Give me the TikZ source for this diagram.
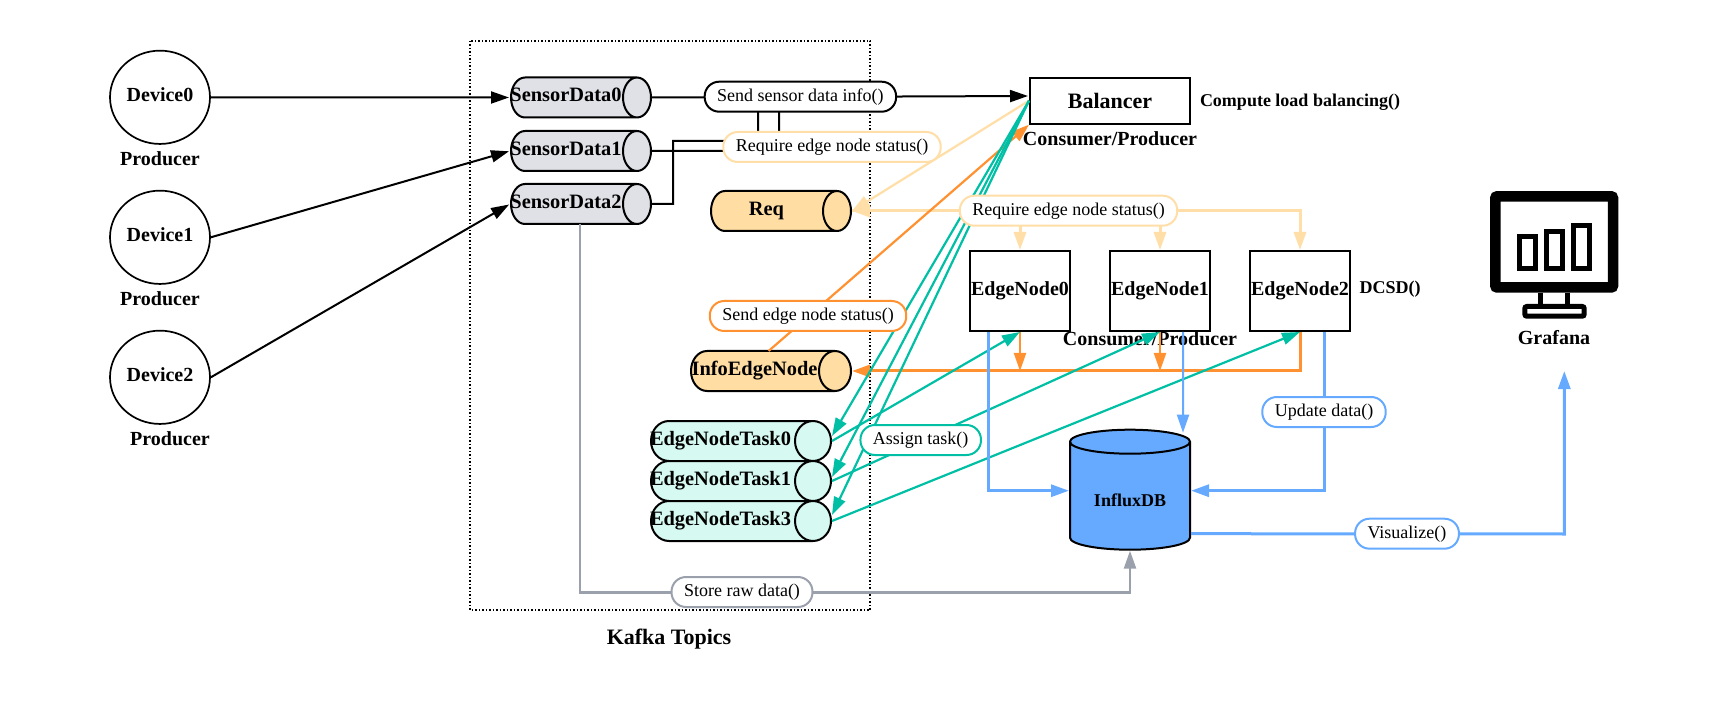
\documentclass[tikz,border=0pt]{standalone}
\usepackage{fontspec}
\setmainfont{Liberation Serif}
\usetikzlibrary{shapes.geometric,arrows.meta}
\definecolor{sensorgrey}{HTML}{DFE1E6}
\definecolor{linegrey}{HTML}{9AA0AC}
\definecolor{pale}{HTML}{FFDEA7}
\definecolor{paleorange}{HTML}{FFDDA3}
\definecolor{deeporange}{HTML}{FF9130}
\definecolor{teal}{HTML}{00BFA5}
\definecolor{mint}{HTML}{D6F9F2}
\definecolor{skyblue}{HTML}{66AAFF}
\tikzset{blacktip/.style={-{Triangle[length=18pt,width=12pt]},shorten >=1pt}}
\tikzset{colortip/.style={-{Triangle[length=18pt,width=12pt]}}}
\tikzset{device/.style={
    draw=black,
    ellipse,
    line width=1.7pt,
    inner sep=0pt,
    text depth=6pt,
    minimum width=100pt,
    minimum height=93.3pt,
    font=\fontsize{20}{24}\selectfont\bfseries}}
\tikzset{topic/.style={
    draw=black,
    cylinder,
    anchor=west,
    line width=2pt,
    inner sep=0pt,
    text height=40pt,
    text depth=0pt,
    minimum width=40pt,
    shape aspect=0.7}}
\tikzset{topiclabel/.style={
    inner sep=0pt,
    text height=14pt,
    text depth=5pt,
    font=\fontsize{20.4}{24}\selectfont\bfseries}}
\tikzset{boxnode/.style={
    draw=black,
    rectangle,
    line width=2pt,
    inner sep=0pt,
    font=\fontsize{20}{24}\selectfont\bfseries}}
\tikzset{note/.style={
    inner sep=0pt,
    font=\fontsize{18}{22}\selectfont\bfseries}}
\tikzset{bignote/.style={
    inner sep=0pt,
    font=\fontsize{20}{24}\selectfont\bfseries}}
\tikzset{pill/.style={
    fill=white,
    rectangle,
    rounded corners=14.5pt,
    line width=2pt,
    inner xsep=12.5pt,
    inner ysep=0pt,
    minimum height=30pt,
    font=\fontsize{18}{22}\selectfont}}
\tikzset{dataedge/.style={
    draw=black,
    line width=2pt}}
\tikzset{paleedge/.style={
    draw=pale,
    line width=3pt}}
\tikzset{orangeedge/.style={
    draw=deeporange,
    line width=2.2pt}}
\tikzset{tealedge/.style={
    draw=teal,
    line width=2.2pt}}
\tikzset{blueedge/.style={
    draw=skyblue,
    line width=3pt}}
\tikzset{screenline/.style={
    draw=black,
    line width=5pt}}

\begin{document}
\begin{tikzpicture}[x=1pt,y=-1pt]
	\path[use as bounding box] (0,0) rectangle (1714,711);
	\draw[black,line width=1.5pt,dotted] (470,41) rectangle (870,610);

	\node[device] (dev0) at (160,97.3) {Device0};
	\node[device] (dev1) at (160,237.3) {Device1};
	\node[device] (dev2) at (160,377.3) {Device2};
	\node[bignote] (prod0) at (160,159) {Producer};
	\node[bignote] (prod1) at (160,299) {Producer};
	\node[bignote] (prod2) at (170,439) {Producer};

	\node[topic,fill=sensorgrey,minimum height=140pt,label={[topiclabel,xshift=-7.5pt]center:SensorData0}] (sens0) at (510,97.5) {};
	\node[topic,fill=sensorgrey,minimum height=140pt,label={[topiclabel,xshift=-7.5pt]center:SensorData1}] (sens1) at (510,151) {};
	\node[topic,fill=sensorgrey,minimum height=140pt,label={[topiclabel,xshift=-7.5pt]center:SensorData2}] (sens2) at (510,204) {};
	\node[topic,fill=paleorange,minimum height=140pt,label={[topiclabel,xshift=-7pt]center:Req}] (req) at (710,211) {};
	\node[topic,fill=paleorange,minimum height=160pt,shape aspect=0.8,label={[topiclabel,xshift=-8pt]center:InfoEdgeNode}] (info) at (690,371) {};
	\node[topic,fill=mint,minimum height=180pt,shape aspect=0.9,label={[topiclabel,xshift=-11pt]center:EdgeNodeTask0}] (task0) at (650,441) {};
	\node[topic,fill=mint,minimum height=180pt,shape aspect=0.9,label={[topiclabel,xshift=-11pt]center:EdgeNodeTask1}] (task1) at (650,481) {};
	\node[topic,fill=mint,minimum height=180pt,shape aspect=0.9,label={[topiclabel,xshift=-11pt]center:EdgeNodeTask3}] (task3) at (650,521) {};

	\node[boxnode,minimum width=160pt,minimum height=46pt,font=\fontsize{22}{26}\selectfont\bfseries] (bal) at (1110,100.7) {Balancer};
	\node[boxnode,minimum width=100pt,minimum height=80pt] (en0) at (1020,291) {EdgeNode0};
	\node[boxnode,minimum width=100pt,minimum height=80pt] (en1) at (1160,291) {EdgeNode1};
	\node[boxnode,minimum width=100pt,minimum height=80pt] (en2) at (1300,291) {EdgeNode2};
	\node[draw=black,fill=skyblue,cylinder,shape border rotate=90,line width=2pt,inner sep=0pt,text width=120pt,minimum width=120pt,minimum height=120pt,shape aspect=0.2,anchor=south,label={[note,yshift=-4.5pt]center:InfluxDB}] (influx) at (1130,550.7) {};

	\node[note] (balcompute) at (1300,102) {Compute load balancing()};
	\node[bignote] (balrole) at (1110,139) {Consumer/Producer};
	\node[note] (dcsd) at (1390,289) {DCSD()};
	\node[bignote] (enrole) at (1150,339) {Consumer/Producer};
	\node[bignote] (grafana) at (1554,338) {Grafana};
	\node[bignote,font=\fontsize{22}{26}\selectfont\bfseries] (kafka) at (669,639) {Kafka Topics};

	\coordinate (up1) at (779,151);
	\coordinate (up1top) at (779,97);
	\coordinate (bend2) at (673,204);
	\coordinate (bend2top) at (673,141);
	\coordinate (up2) at (758,141);
	\coordinate (up2top) at (758,97);
	\coordinate (rawtop) at (580,224);
	\coordinate (rawdown) at (580,592.7);
	\coordinate (infotop) at (768.6,351);
	\coordinate (grafanain) at (1564.3,371);
	\coordinate (grafanafoot) at (1564.3,534);

	\draw[dataedge,blacktip] (dev0.east) -- (sens0.west);
	\draw[dataedge,blacktip] (dev1.east) -- (sens1.west);
	\draw[dataedge,blacktip] (dev2.east) -- (sens2.west);
	\draw[dataedge,blacktip] (sens0.east) -- ([yshift=4.7pt]bal.west);
	\draw[dataedge] (sens1.east) -- (up1) -- (up1top);
	\draw[dataedge] (sens2.east) -- (bend2) -- (bend2top) -- (up2) -- (up2top);

	\path[paleedge,line width=2.2pt,colortip] (bal.west) -- (req.east);
	\path[paleedge,colortip] (en2.north |- req.east) -- (req.east);
	\path[paleedge,colortip] (req.east) -| (en0.north);
	\path[paleedge,colortip] (req.east) -| (en1.north);
	\path[paleedge,colortip] (req.east) -| (en2.north);

	\path[orangeedge,colortip] (infotop) -- (bal.south west);
	\path[orangeedge,line width=3pt,colortip] (en2.south) |- (info.east);
	\path[orangeedge,colortip] (en0.south) -- (en0.south |- info.east);
	\path[orangeedge,colortip] (en1.south) -- (en1.south |- info.east);

	\path[tealedge,colortip] (bal.west) -- ([yshift=5pt]task0.east);
	\path[tealedge,colortip] (bal.west) -- ([yshift=4pt]task1.east);
	\path[tealedge,colortip] (bal.west) -- ([yshift=6pt]task3.east);
	\path[tealedge,colortip] (task0.east) -- (en0.south);
	\path[tealedge,colortip] (task1.east) -- (en1.south);
	\path[tealedge,colortip] (task3.east) -- (en2.south);

	\path[blueedge,colortip] ([xshift=-32pt]en0.south) |- ([yshift=5.5pt]influx.west);
	\path[blueedge,line width=2pt,colortip] ([xshift=23pt]en1.south) -- ([xshift=53pt,yshift=-4pt]influx.north);
	\path[blueedge,colortip] ([xshift=24.3pt]en2.south) |- ([yshift=5.5pt]influx.east);
	\path[blueedge,colortip] ([yshift=-37.5pt]influx.east) -- (grafanafoot) -- (grafanain);

	\path[draw=linegrey,line width=2.5pt,colortip] (rawtop) -- (rawdown) -| (influx.south);

	\node[pill,draw=black] (infopill) at (800.4,96.7) {Send sensor data info()};
	\node[pill,draw=pale] (statuspill0) at (832,147) {Require edge node status()};
	\node[pill,draw=pale] (statuspill1) at (1068.5,210.7) {Require edge node status()};
	\node[pill,draw=deeporange] (sendpill) at (808,316) {Send edge node status()};
	\node[pill,draw=teal] (assignpill) at (920.7,440) {Assign task()};
	\node[pill,draw=skyblue] (updatepill) at (1324,412) {Update data()};
	\node[pill,draw=skyblue] (vispill) at (1407,533.7) {Visualize()};
	\node[pill,draw=linegrey] (rawpill) at (742,592) {Store raw data()};

	\draw[black,line width=10.5pt,rounded corners=2pt] (1495.3,196.3) rectangle (1613,287.5);
	\draw[screenline] (1519.2,236.5) rectangle (1535.8,268.8);
	\draw[screenline] (1546.5,231.2) rectangle (1562.8,268.8);
	\draw[screenline] (1573.2,225.8) rectangle (1589.8,268.8);
	\draw[screenline] (1540.8,292.7) -- (1540.8,304);
	\draw[screenline] (1567.8,292.7) -- (1567.8,304);
	\draw[screenline,rounded corners=2pt] (1524.8,306.5) rectangle (1584.2,316.2);
\end{tikzpicture}
\end{document}
